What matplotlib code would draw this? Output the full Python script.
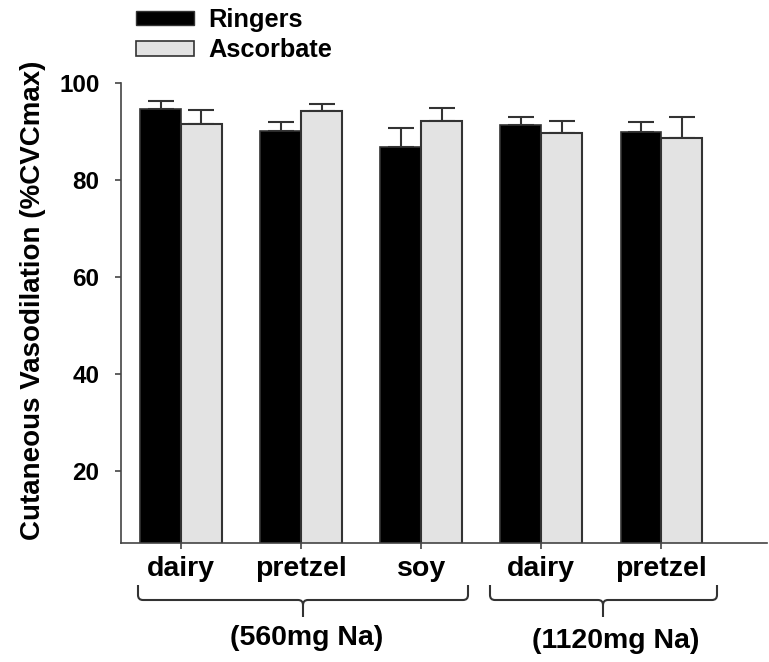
import matplotlib
matplotlib.use("Agg")
import matplotlib.pyplot as plt
import numpy as np
from matplotlib.patches import Patch, PathPatch
from matplotlib.path import Path
import matplotlib.transforms as mtransforms

plt.rcParams['font.family'] = ['Liberation Sans', 'DejaVu Sans']
plt.rcParams['font.weight'] = 'bold'

categories = ['dairy', 'pretzel', 'soy', 'dairy', 'pretzel']
ringers = [94.5, 90.1, 86.8, 91.2, 89.8]
ringers_err = [1.8, 1.8, 3.8, 1.7, 2.0]
ascorbate = [91.4, 94.1, 92.2, 89.7, 88.5]
ascorbate_err = [2.9, 1.5, 2.5, 2.3, 4.4]
series_names = ['Ringers', 'Ascorbate']
group_labels = ['(560mg Na)', '(1120mg Na)']
yticks = [20, 40, 60, 80, 100]

W, H = 769, 662
fig = plt.figure(figsize=(W / 100, H / 100), dpi=100)
ax = fig.add_axes([121 / W, (H - 543.3) / H, 646 / W, (543.3 - 82.7) / H])

x = np.arange(len(categories))
bw = 0.34
edge = '#333333'
lightfill = '#e3e3e3'
ax.bar(x - bw / 2, ringers, bw, color='black', edgecolor=edge, linewidth=1.2, zorder=2)
ax.bar(x + bw / 2, ascorbate, bw, color=lightfill, edgecolor=edge, linewidth=1.5, zorder=2)
ax.errorbar(x - bw / 2, ringers, yerr=[np.zeros(len(x)), ringers_err], fmt='none',
            ecolor=edge, elinewidth=1.5, capsize=9.5, capthick=1.5, zorder=1)
ax.errorbar(x + bw / 2, ascorbate, yerr=[np.zeros(len(x)), ascorbate_err], fmt='none',
            ecolor=edge, elinewidth=1.5, capsize=9.5, capthick=1.5, zorder=1)

ax.set_xlim(-0.5, 4.88)
ax.set_ylim(5, 100)
ax.set_yticks(yticks)
ax.set_yticklabels([str(t) for t in yticks], fontsize=17.5, fontweight='bold')
ax.set_xticks(x)
ax.set_xticklabels(categories, fontsize=20.5, fontweight='bold')
ax.tick_params(axis='y', length=4.5, width=1.2, pad=11, color='#444444')
ax.tick_params(axis='x', length=4, width=1.2, pad=5, color='#444444')
for s in ['top', 'right']:
    ax.spines[s].set_visible(False)
for s in ['left', 'bottom']:
    ax.spines[s].set_linewidth(1.2)
    ax.spines[s].set_color('#444444')

fig.text(33 / W, 1 - 300 / H, 'Cutaneous Vasodilation (%CVCmax)', rotation=90,
         ha='center', va='center', fontsize=20, fontweight='bold')

# group brackets (rounded curly-brace style)
def fx(px):
    return px / W
def fy(py):
    return 1 - py / H
brackets_px = [(138, 468, 303), (490, 717, 603)]
label_pos = [(1.05, 638), (3.62, 641)]
trans = mtransforms.blended_transform_factory(ax.transData, fig.transFigure)
r = 5
for (x0, x1, xc), lab, (lx, ly) in zip(brackets_px, group_labels, label_pos):
    verts = [(x0, 585), (x0, 600 - r), (x0, 600), (x0 + r, 600),
             (xc - r, 600), (xc, 600), (xc, 600 + r), (xc, 617)]
    codes = [Path.MOVETO, Path.LINETO, Path.CURVE3, Path.CURVE3,
             Path.LINETO, Path.CURVE3, Path.CURVE3, Path.LINETO]
    verts2 = [(x1, 585), (x1, 600 - r), (x1, 600), (x1 - r, 600),
              (xc + r, 600), (xc, 600), (xc, 600 + r)]
    codes2 = [Path.MOVETO, Path.LINETO, Path.CURVE3, Path.CURVE3,
              Path.LINETO, Path.CURVE3, Path.CURVE3]
    for vv, cc in [(verts, codes), (verts2, codes2)]:
        p = Path([(fx(a), fy(b)) for a, b in vv], cc)
        fig.patches.append(PathPatch(p, transform=fig.transFigure, facecolor='none',
                                     edgecolor='#333333', lw=1.5))
    ax.text(lx, fy(ly), lab, transform=trans, ha='center', va='center',
            fontsize=20.5, fontweight='bold')

handles = [Patch(facecolor='black', edgecolor=edge), Patch(facecolor=lightfill, edgecolor=edge, linewidth=1.2)]
fig.legend(handles, series_names, loc='upper left', bbox_to_anchor=(136 / W, 1 - 8 / H),
           frameon=False, handlelength=2.3, handleheight=0.5,
           handletextpad=0.55, labelspacing=0.25, borderpad=0, borderaxespad=0,
           prop={'weight': 'bold', 'size': 18.3})

fig.savefig('out.png', dpi=100)
